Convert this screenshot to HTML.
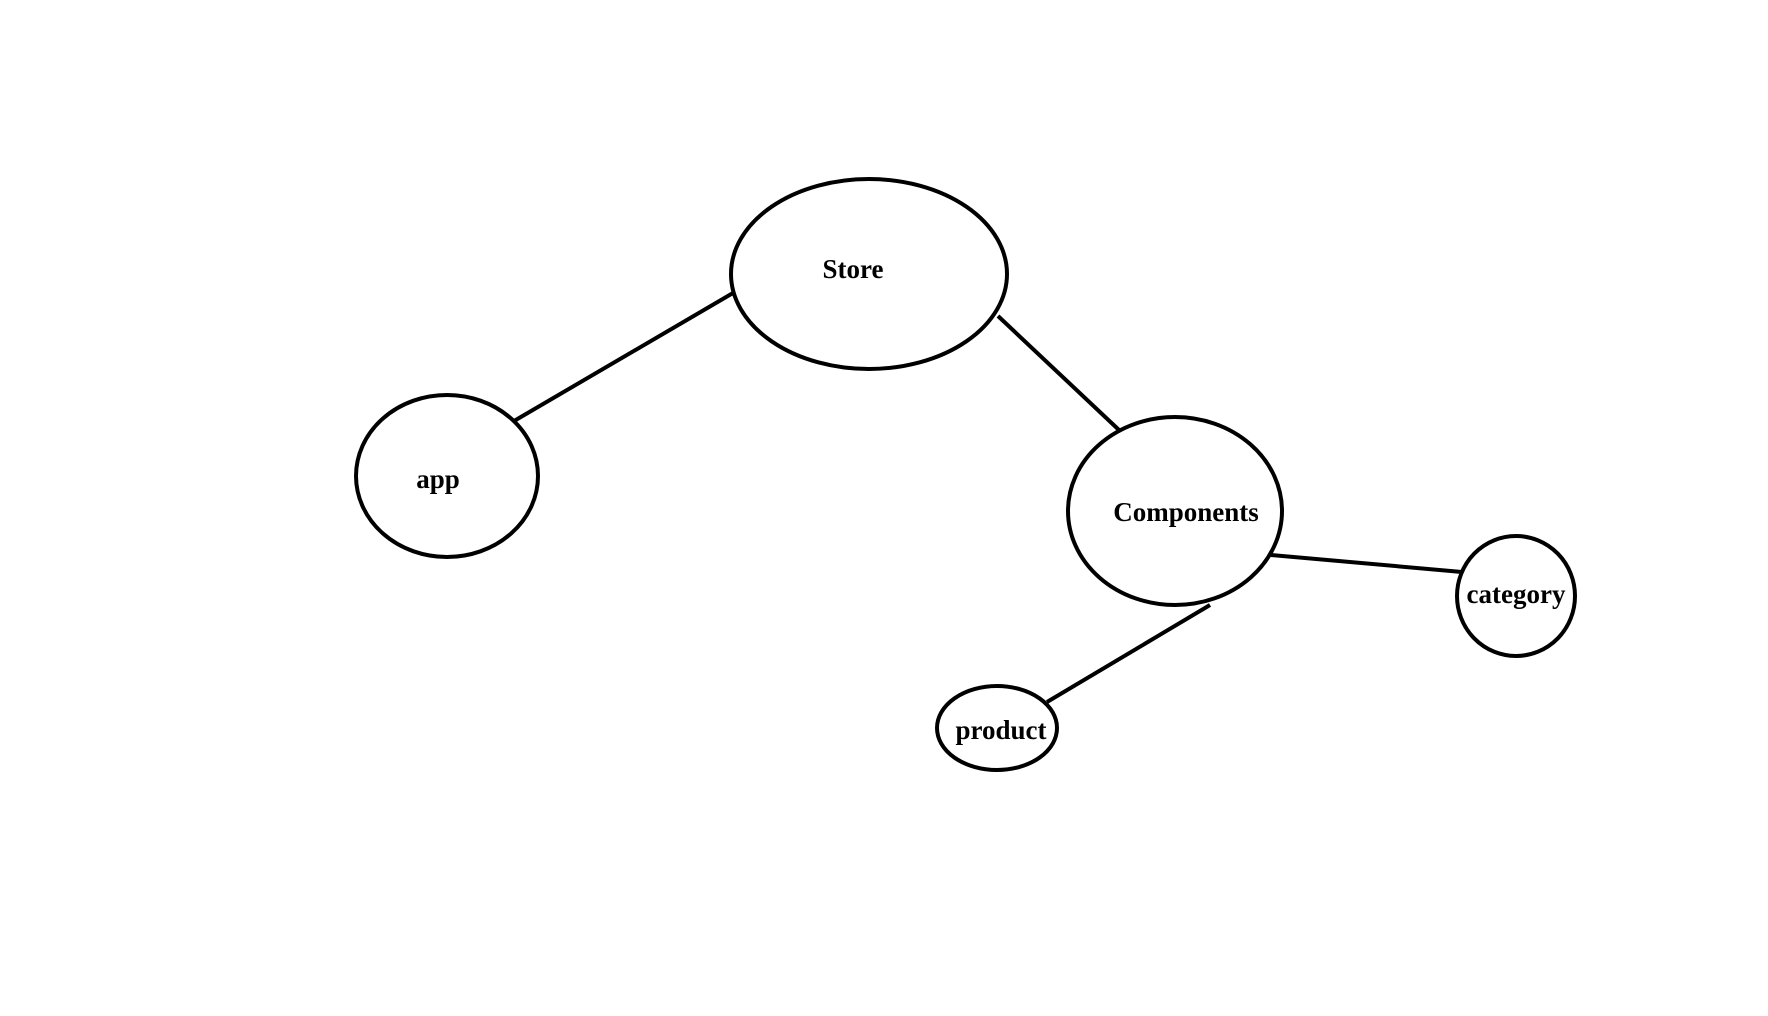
<!DOCTYPE html>
<html><head><meta charset="utf-8"><style>html,body{margin:0;padding:0;background:#fff}svg{display:block}</style></head>
<body>
<svg width="1768" height="1016" viewBox="0 0 1768 1016" xmlns="http://www.w3.org/2000/svg">
<g fill="none" stroke="#000" stroke-width="4">
<ellipse cx="869" cy="274" rx="138" ry="95"/>
<ellipse cx="447" cy="476" rx="91" ry="81"/>
<ellipse cx="1175" cy="511" rx="107" ry="94"/>
<ellipse cx="1516" cy="596" rx="59" ry="60"/>
<ellipse cx="997" cy="728" rx="60" ry="42"/>
<line x1="514" y1="421" x2="733" y2="293"/>
<line x1="998" y1="316" x2="1119" y2="430"/>
<line x1="1271" y1="555" x2="1462" y2="572"/>
<line x1="1210" y1="605" x2="1047" y2="702"/>
</g>
<g font-family="Liberation Serif, serif" font-weight="bold" font-size="27" text-anchor="middle" fill="#000">
<text x="853" y="278">Store</text>
<text x="438" y="488">app</text>
<text x="1186" y="521">Components</text>
<text x="1516" y="603">category</text>
<text x="1001" y="739">product</text>
</g>
</svg>
</body></html>
